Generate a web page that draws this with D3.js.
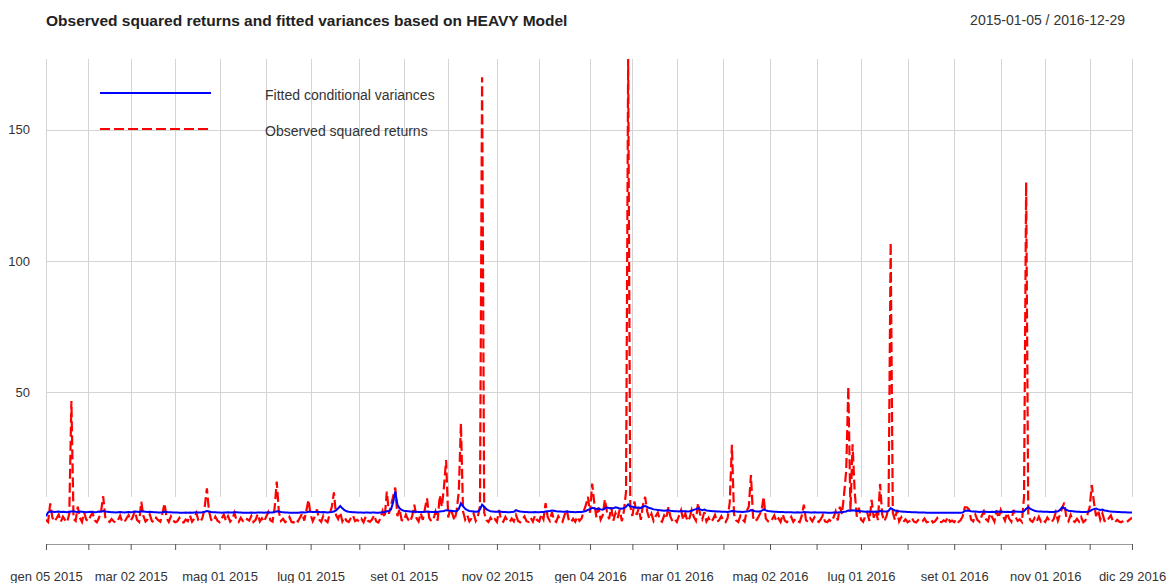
<!DOCTYPE html>
<html>
<head>
<meta charset="utf-8">
<script src="https://cdn.jsdelivr.net/npm/d3@7"></script>
<style>
  body { margin: 0; background: #fff; }
  svg { display: block; font-family: "Liberation Sans", Arial, sans-serif; }
</style>
</head>
<body>
<svg width="1172" height="583"></svg>
<script>
const chartTitle = "Observed squared returns and fitted variances based on HEAVY Model";
const dateRange = "2015-01-05 / 2016-12-29";
const seriesNames = ["Fitted conditional variances", "Observed squared returns"];

// first trading day of each month (observation index) + labels, every other one shown
const tickIdx = [0, 20, 40, 61, 82, 104, 125, 148, 169, 190, 213, 233, 257, 277, 298, 320, 342, 364, 385, 407, 429, 451, 472, 493, 513];
const tickLabels = ["gen 05 2015", "", "mar 02 2015", "", "mag 01 2015", "", "lug 01 2015", "", "set 01 2015", "", "nov 02 2015", "",
  "gen 04 2016", "", "mar 01 2016", "", "mag 02 2016", "", "lug 01 2016", "", "set 01 2016", "", "nov 01 2016", "", "dic 29 2016"];
const yTicks = [50, 100, 150];

// observed squared returns, one row per month
const squaredReturns = [
  1.2,0.4,7.5,2.1,0.6,1.8,3.2,0.5,2.4,1.1,0.3,3.5,46.5,1.6,0.8,6.2,2.0,0.4,4.1,1.3,
  0.7,2.6,3.9,1.0,0.3,1.9,4.4,10.2,2.2,0.9,0.4,1.5,0.6,0.2,1.1,2.8,0.5,0.3,1.7,3.0,
  0.9,2.3,4.6,1.2,0.4,8.1,2.7,0.6,1.4,3.3,0.8,0.3,2.0,1.1,0.5,3.6,7.5,1.8,0.4,2.5,1.0,
  0.3,0.6,1.9,0.4,0.2,1.3,0.7,2.9,0.5,1.6,3.8,1.0,0.4,2.2,6.3,13.2,4.5,1.2,0.6,2.4,0.9,
  0.3,1.7,3.2,0.8,2.6,0.5,1.4,3.9,1.1,0.4,2.0,0.7,0.3,1.5,0.9,2.7,0.4,1.2,3.4,0.6,1.8,0.5,
  2.4,4.1,1.0,0.5,5.8,15.8,4.2,0.8,1.6,0.3,0.9,2.3,0.4,0.2,1.4,0.6,2.1,3.7,0.9,4.8,8.8,
  3.1,0.7,2.5,5.2,1.3,0.4,2.8,1.0,0.3,3.4,6.1,11.7,3.0,1.5,4.0,0.6,2.2,0.8,0.4,1.9,2.9,0.7,1.2,
  0.5,1.6,0.3,2.4,0.9,0.4,1.3,3.0,0.6,0.2,1.8,4.6,2.1,12.0,3.5,6.8,10.2,13.5,2.6,5.4,1.1,
  0.8,3.2,1.4,0.5,2.7,7.0,1.9,0.6,3.8,1.2,5.5,9.4,2.0,0.7,1.5,4.3,0.9,10.5,6.2,13.8,24.0,
  2.1,5.6,3.4,1.0,4.8,12.0,38.0,4.4,1.3,2.9,0.6,1.8,3.6,0.8,2.4,6.5,170.0,3.9,1.1,0.4,2.0,0.7,1.5,
  0.4,5.0,1.2,0.5,2.3,0.9,0.3,1.7,0.6,3.1,0.8,0.3,1.4,2.5,0.7,0.4,1.9,0.5,2.8,1.1,
  0.6,3.4,1.5,7.6,2.2,0.8,4.1,1.0,0.4,2.6,1.3,0.5,3.2,5.0,0.9,0.3,1.6,0.5,2.4,0.8,1.7,4.5,6.8,10.0,
  3.9,15.0,7.6,2.2,5.9,1.3,3.0,9.0,4.2,1.5,6.0,0.9,3.8,1.8,5.1,0.7,4.6,12.0,177.0,6.4,
  2.7,8.2,3.1,5.6,1.2,6.9,10.0,4.4,1.6,3.5,0.8,2.6,4.0,1.1,0.5,2.9,1.7,6.0,2.3,0.6,1.4,
  0.4,2.8,4.9,1.2,3.6,0.7,1.9,5.0,2.4,0.9,7.6,3.3,1.4,4.2,0.6,2.0,0.4,1.3,3.1,0.5,1.1,2.6,
  0.8,0.3,1.9,8.0,29.8,3.4,1.0,0.4,2.7,1.3,0.5,4.6,6.3,18.3,2.2,0.6,1.5,3.0,4.8,10.0,1.8,0.7,
  0.3,1.4,2.9,0.6,1.7,0.4,3.3,0.9,0.3,1.2,2.4,0.5,1.6,0.7,0.3,2.8,7.0,1.1,0.4,1.8,0.6,2.2,
  0.9,0.4,1.5,3.0,0.6,0.3,1.2,0.5,2.1,4.4,1.0,6.2,3.5,11.0,20.0,52.0,4.5,30.0,12.0,2.4,5.8,
  1.3,0.5,2.6,3.8,0.8,8.8,2.0,4.7,1.1,14.9,3.2,0.7,2.5,6.0,107.0,4.1,1.2,5.0,0.6,2.2,0.4,1.4,
  0.3,0.8,2.0,0.5,0.2,1.1,0.4,0.6,1.7,0.3,0.5,1.3,0.2,0.7,1.9,0.4,0.3,1.0,0.6,2.3,0.5,0.9,
  0.3,1.4,0.4,1.0,2.5,6.0,6.0,5.2,1.3,0.6,3.2,1.1,0.4,2.7,4.4,1.5,0.7,3.6,2.1,0.5,4.8,1.9,
  5.0,2.8,0.9,3.9,1.6,0.5,5.0,2.3,0.8,1.4,0.4,10.0,130.0,3.2,1.0,0.4,1.9,0.6,2.4,0.5,1.2,
  0.4,2.1,0.8,0.3,1.5,4.0,0.9,3.3,5.6,7.8,2.0,0.7,3.1,1.0,0.4,1.6,0.5,2.2,0.3,1.0,3.4,
  6.0,14.5,8.0,2.6,4.9,1.3,3.7,0.8,0.4,1.8,2.9,0.6,0.3,1.2,0.5,0.3,0.9,0.4,0.7,1.4,2.0
];

// fitted conditional variances from the HEAVY model, same rows
const fittedVar = [
  2.6,4.1,4.4,4.3,4.2,4.3,4.4,4.2,4.3,4.2,4.1,4.3,4.4,4.5,4.3,4.2,4.4,4.3,4.2,4.1,
  4.2,4.3,4.2,4.1,4.2,4.4,4.3,4.6,4.4,4.3,4.2,4.1,4.1,4.0,4.1,4.2,4.1,4.0,4.1,4.2,
  4.1,4.2,4.4,4.3,4.2,4.5,4.4,4.3,4.2,4.3,4.2,4.1,4.1,4.0,4.0,4.1,4.3,4.2,4.1,4.1,4.0,
  4.0,4.0,3.9,3.9,3.9,4.0,3.9,4.0,3.9,4.0,4.1,4.0,4.0,4.1,4.3,4.6,4.4,4.2,4.1,4.1,4.0,
  4.0,3.9,4.0,4.0,4.1,4.0,4.0,4.1,4.1,4.0,4.0,3.9,3.9,3.9,3.9,4.0,3.9,3.9,4.0,4.0,4.0,3.9,
  4.0,4.1,4.0,4.0,4.2,4.5,4.4,4.2,4.1,4.0,4.0,3.9,3.9,3.9,3.9,3.9,4.0,4.1,4.0,4.1,4.3,
  4.3,4.2,4.2,4.3,4.2,4.1,4.2,4.1,4.0,4.1,4.2,4.4,4.8,5.6,6.5,5.6,4.9,4.5,4.3,4.2,4.1,4.1,4.0,
  4.0,4.0,3.9,4.0,4.0,3.9,4.0,4.0,3.9,3.9,4.0,4.1,4.2,4.5,4.6,5.2,8.0,12.0,7.0,5.6,5.0,
  4.7,4.6,4.5,4.4,4.3,4.4,4.3,4.2,4.2,4.2,4.3,4.4,4.3,4.2,4.2,4.3,4.2,4.4,4.5,4.6,4.9,
  4.8,4.7,4.6,4.5,4.6,5.4,7.5,6.4,5.4,4.9,4.6,4.5,4.4,4.3,4.4,5.2,7.0,6.2,5.3,4.8,4.5,4.4,4.3,
  4.3,4.4,4.3,4.2,4.2,4.1,4.1,4.2,4.3,4.9,4.6,4.4,4.3,4.2,4.2,4.1,4.1,4.1,4.2,4.1,
  4.1,4.2,4.2,4.4,4.5,4.6,4.8,4.7,4.5,4.4,4.4,4.3,4.3,4.4,4.3,4.2,4.2,4.1,4.2,4.2,4.2,4.4,4.6,5.0,
  5.3,5.8,5.6,5.3,5.5,5.2,5.1,5.6,5.9,5.7,5.5,5.6,6.0,5.8,5.5,5.4,5.7,6.2,7.1,6.4,
  6.2,6.0,5.8,5.9,5.7,6.3,6.5,6.1,5.7,5.5,5.2,5.1,5.0,4.9,4.8,4.7,4.8,4.9,4.7,4.6,4.5,
  4.5,4.4,4.6,4.5,4.5,4.4,4.5,4.7,5.0,5.3,5.7,5.2,4.9,5.1,4.8,4.7,4.6,4.5,4.5,4.4,4.4,4.3,
  4.3,4.3,4.2,4.4,4.6,4.5,4.4,4.3,4.3,4.2,4.3,4.4,4.5,4.9,4.7,4.5,4.4,4.4,4.6,5.2,4.8,4.6,
  4.5,4.4,4.3,4.3,4.2,4.2,4.2,4.1,4.1,4.1,4.1,4.0,4.0,4.1,4.0,4.0,4.2,4.1,4.1,4.0,4.0,4.1,
  4.0,4.0,4.0,4.0,4.0,3.9,3.9,3.9,4.0,4.0,4.0,4.1,4.1,4.3,4.4,4.8,4.7,4.9,4.8,4.6,4.6,
  4.5,4.4,4.3,4.4,4.3,4.4,4.3,4.4,4.3,4.6,4.5,4.4,4.4,4.6,5.7,5.2,4.8,4.7,4.5,4.4,4.3,4.3,
  4.2,4.2,4.1,4.1,4.1,4.0,4.0,4.0,4.0,3.9,3.9,3.9,3.9,3.9,3.9,3.9,3.9,3.9,3.9,3.9,3.9,3.9,
  3.9,3.9,3.9,3.9,4.0,4.6,4.8,4.7,4.5,4.4,4.4,4.3,4.2,4.3,4.4,4.3,4.2,4.2,4.3,4.2,4.4,4.3,
  4.4,4.3,4.2,4.3,4.2,4.2,4.5,4.4,4.3,4.3,4.2,4.5,5.4,6.0,5.4,5.0,4.7,4.5,4.4,4.4,4.3,
  4.3,4.3,4.2,4.2,4.2,4.4,4.4,5.0,6.0,5.6,5.0,4.7,4.6,4.5,4.4,4.3,4.3,4.2,4.2,4.2,4.3,
  4.5,5.0,5.3,5.5,5.2,5.0,5.1,4.8,4.7,4.5,4.4,4.3,4.3,4.2,4.2,4.1,4.1,4.1,4.0,4.0,4.0
];

const plotLeft = 46, plotRight = 1132, plotTop = 59, plotBottom = 523;
const gridBottom = 497, axisY = 544;

const svg = d3.select("svg");

const x = d3.scaleLinear()
  .domain([0, squaredReturns.length - 1])
  .range([plotLeft, plotRight]);
const y = d3.scaleLinear()
  .domain([0, d3.max(squaredReturns)])
  .range([plotBottom, plotTop]);

// title and date range
svg.append("text")
  .attr("x", plotLeft).attr("y", 26)
  .attr("font-size", 15.5).attr("font-weight", "bold").attr("fill", "#222")
  .text(chartTitle);
svg.append("text")
  .attr("x", 1125).attr("y", 25)
  .attr("font-size", 14).attr("fill", "#333").attr("text-anchor", "end")
  .text(dateRange);

// grid
const grid = svg.append("g").attr("stroke", "#d4d4d4").attr("stroke-width", 1);
grid.selectAll(".vgrid")
  .data(tickIdx)
  .enter().append("line")
    .attr("class", "vgrid")
    .attr("x1", d => Math.round(x(d)) + 0.5).attr("x2", d => Math.round(x(d)) + 0.5)
    .attr("y1", plotTop).attr("y2", gridBottom);
grid.selectAll(".hgrid")
  .data(yTicks)
  .enter().append("line")
    .attr("class", "hgrid")
    .attr("x1", plotLeft).attr("x2", plotRight)
    .attr("y1", d => Math.round(y(d)) + 0.5).attr("y2", d => Math.round(y(d)) + 0.5);

// y labels (no axis line)
const yAxis = svg.append("g")
  .attr("transform", "translate(30,0)")
  .call(d3.axisLeft(y).tickValues(yTicks).tickSize(0).tickPadding(0));
yAxis.select(".domain").remove();
yAxis.selectAll("text").attr("font-size", 13).attr("fill", "#333").attr("font-family", null);

// x axis
const xAxis = svg.append("g")
  .attr("transform", "translate(0," + axisY + ")")
  .call(d3.axisBottom(x).tickValues(tickIdx).tickFormat((d, i) => tickLabels[i]).tickSize(6).tickSizeOuter(0).tickPadding(22));
xAxis.select(".domain").attr("stroke", "#999");
xAxis.selectAll(".tick line").attr("stroke", "#555");
xAxis.selectAll("text").attr("font-size", 13).attr("fill", "#333").attr("font-family", null);

// series
svg.append("clipPath").attr("id", "plot-clip")
  .append("rect")
    .attr("x", plotLeft).attr("y", plotTop - 1)
    .attr("width", plotRight - plotLeft).attr("height", plotBottom - plotTop + 4);

const line = d3.line()
  .x((d, i) => x(i))
  .y(d => y(d));

const series = svg.append("g").attr("clip-path", "url(#plot-clip)");
series.append("path")
  .datum(squaredReturns)
  .attr("fill", "none")
  .attr("stroke", "#ff0000")
  .attr("stroke-width", 2.2)
  .attr("stroke-dasharray", "10,4")
  .attr("d", line);
series.append("path")
  .datum(fittedVar)
  .attr("fill", "none")
  .attr("stroke", "#0000ff")
  .attr("stroke-width", 2)
  .attr("d", line);

// legend
const legend = svg.append("g");
const legendRows = [
  { name: seriesNames[0], color: "#0000ff", dash: null, y: 93 },
  { name: seriesNames[1], color: "#ff0000", dash: "10,4", y: 129 }
];
legendRows.forEach(function(r) {
  legend.append("line")
    .attr("x1", 100).attr("x2", 211)
    .attr("y1", r.y).attr("y2", r.y)
    .attr("stroke", r.color).attr("stroke-width", 2.2)
    .attr("stroke-dasharray", r.dash);
  legend.append("text")
    .attr("x", 265).attr("y", r.y + 7)
    .attr("font-size", 14).attr("fill", "#333")
    .text(r.name);
});
</script>
</body>
</html>
